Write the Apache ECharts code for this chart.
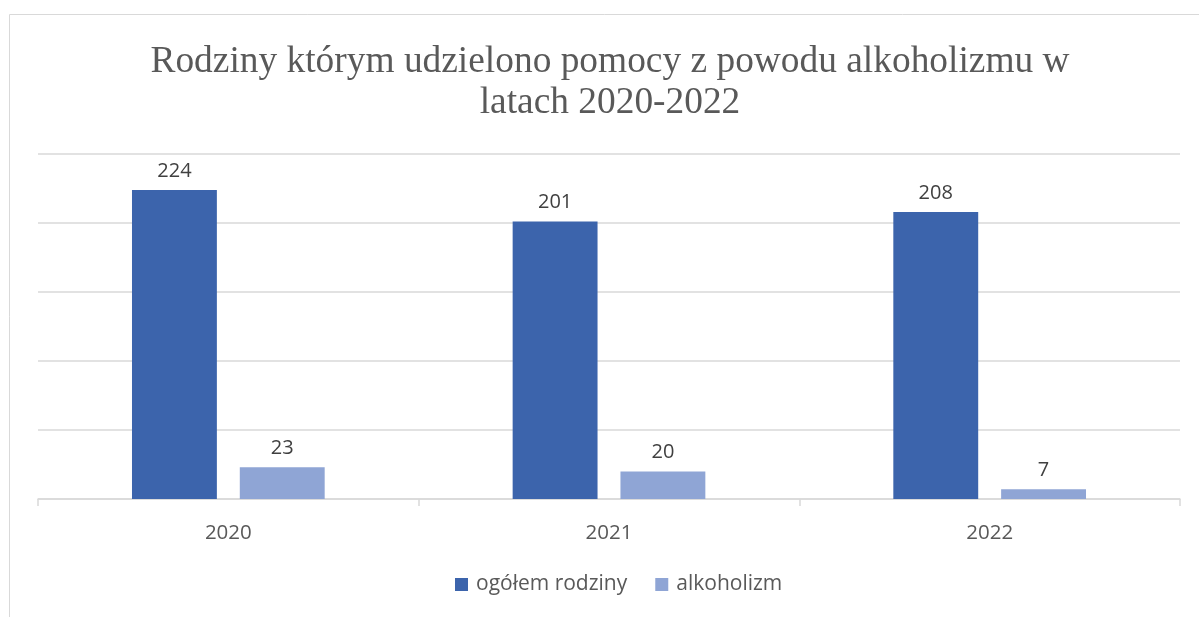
<!DOCTYPE html>
<html>
<head>
<meta charset="utf-8">
<script src="https://cdn.jsdelivr.net/npm/echarts@6/dist/echarts.min.js"></script>
<style>
html,body{margin:0;padding:0;background:#fff;}
#c{width:1199px;height:617px;}
</style>
</head>
<body>
<div id="c"></div>
<script>
const titleText = 'Rodziny którym udzielono pomocy z powodu alkoholizmu w\nlatach 2020-2022';
const categories = ['2020', '2021', '2022'];
const seriesNames = ['ogółem rodziny', 'alkoholizm'];
const ogolemRodziny = [224, 201, 208];
const alkoholizm = [23, 20, 7];
const colors = ['#3C64AC', '#8FA5D5'];

const chart = echarts.init(document.getElementById('c'));
const labelStyle = {
  show: true, position: 'top', distance: 9,
  color: '#404040', fontSize: 20, fontFamily: 'Open Sans'
};
chart.setOption({
  animation: false,
  graphic: [{
    type: 'rect', silent: true,
    shape: { x: 9.5, y: 14.5, width: 1300, height: 700 },
    style: { fill: 'none', stroke: '#d9d9d9', lineWidth: 1 }
  }],
  title: {
    text: titleText, left: 605, textAlign: 'center', top: 37,
    textStyle: {
      fontFamily: 'Liberation Serif', fontWeight: 'normal',
      fontSize: 37.4, color: '#595959', lineHeight: 41
    }
  },
  legend: {
    data: seriesNames, bottom: 17, left: 450,
    icon: 'rect', itemWidth: 13, itemHeight: 13, itemGap: 28,
    textStyle: { fontFamily: 'Open Sans', fontSize: 21, color: '#595959', padding: [0, 0, 0, 3] }
  },
  grid: { left: 38, right: 19, top: 154, bottom: 118, containLabel: false },
  xAxis: {
    type: 'category', data: categories,
    axisLine: { lineStyle: { color: '#d9d9d9', width: 1.5 } },
    axisTick: { show: true, length: 7, lineStyle: { color: '#d9d9d9', width: 1.5 } },
    axisLabel: { color: '#595959', fontSize: 20.5, fontFamily: 'Open Sans', margin: 24 }
  },
  yAxis: {
    type: 'value', min: 0, max: 250, interval: 50,
    axisLabel: { show: false }, axisLine: { show: false }, axisTick: { show: false },
    splitLine: { lineStyle: { color: '#d9d9d9', width: 1.5 } }
  },
  series: [
    { name: seriesNames[0], type: 'bar', data: ogolemRodziny, barWidth: '22.3%', barGap: '27%',
      itemStyle: { color: colors[0] }, label: labelStyle },
    { name: seriesNames[1], type: 'bar', data: alkoholizm, barWidth: '22.3%',
      itemStyle: { color: colors[1] }, label: labelStyle }
  ]
});
</script>
</body>
</html>
